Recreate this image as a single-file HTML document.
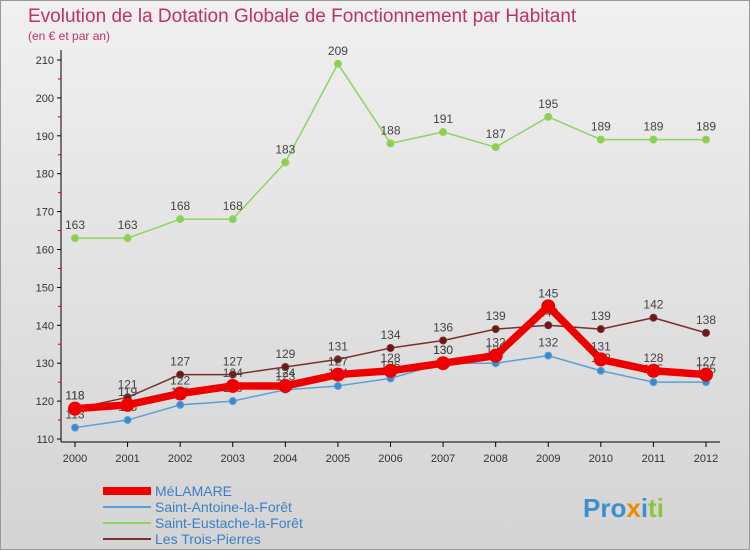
<!DOCTYPE html>
<html><head><meta charset="utf-8"><style>
body{margin:0;width:750px;height:550px;overflow:hidden;font-family:"Liberation Sans",sans-serif}
svg{display:block}
</style></head><body>
<svg width="750" height="550">
<defs><linearGradient id="bg" x1="0" y1="0" x2="0" y2="1"><stop offset="0" stop-color="#f0f0f0"/><stop offset="1" stop-color="#d4d4d4"/></linearGradient></defs>
<rect x="0.5" y="0.5" width="749" height="549" fill="url(#bg)" stroke="#999"/>
<text x="28" y="22" font-size="19" fill="#c0306a">Evolution de la Dotation Globale de Fonctionnement par Habitant</text>
<text x="28" y="40" font-size="12" fill="#c0306a">(en € et par an)</text>
<g id="axes"></g>
<g id="series"></g>
<g id="legend" font-size="14" fill="#3a7fc4">
<rect x="103" y="487" width="48" height="8" fill="#e00"/>
<text x="155" y="496" fill="#3a7fc4">MéLAMARE</text>
<rect x="103" y="506" width="48" height="2" fill="#5aa0d8"/>
<text x="155" y="512" fill="#3a7fc4">Saint-Antoine-la-Forêt</text>
<rect x="103" y="522" width="48" height="2" fill="#8fd460"/>
<text x="155" y="528" fill="#3a7fc4">Saint-Eustache-la-Forêt</text>
<rect x="103" y="538" width="48" height="2" fill="#7a3030"/>
<text x="155" y="544" fill="#3a7fc4">Les Trois-Pierres</text>
</g>
<text x="583" y="517" font-size="26" font-weight="bold"><tspan fill="#3a8fd0">Pro</tspan><tspan fill="#f08a00">x</tspan><tspan fill="#3a8fd0">i</tspan><tspan fill="#8cc63f">ti</tspan></text>
</svg>
<script>
const years=[2000,2001,2002,2003,2004,2005,2006,2007,2008,2009,2010,2011,2012];
const yTicks=[110,120,130,140,150,160,170,180,190,200,210];
const melamare=[118,119,122,124,124,127,128,130,132,145,131,128,127];
const saintAntoine=[113,115,119,120,123,124,126,130,130,132,128,125,125];
const saintEustache=[163,163,168,168,183,209,188,191,187,195,189,189,189];
const troisPierres=[118,121,127,127,129,131,134,136,139,140,139,142,138];
const NS="http://www.w3.org/2000/svg";
const X=i=>75+i*(706-75)/12;
const Y=v=>439-(v-110)*(439-60)/100;
function mk(t,a,p){const e=document.createElementNS(NS,t);for(const k in a)e.setAttribute(k,a[k]);p.appendChild(e);return e;}
const ax=document.getElementById('axes');
const yl=mk('line',{x1:61,y1:50,x2:61,y2:442,stroke:'#000'},ax);


const xl=mk('line',{x1:61,y1:442,x2:720,y2:442,stroke:'#000'},ax);


yTicks.forEach(v=>{
 mk('line',{x1:57,y1:Y(v),x2:61,y2:Y(v),stroke:'#000'},ax);
 if(v<210)mk('line',{x1:58,y1:Y(v+5),x2:61,y2:Y(v+5),stroke:'#d00'},ax);
 const t=mk('text',{x:54,y:Y(v)+4,'font-size':11,fill:'#333','text-anchor':'end'},ax);t.textContent=v;
 
 
});
years.forEach((yr,i)=>{
 mk('line',{x1:X(i),y1:442,x2:X(i),y2:447,stroke:'#000'},ax);
 const t=mk('text',{x:X(i),y:462,'font-size':11,fill:'#333','text-anchor':'middle'},ax);t.textContent=yr;
 
 
});
const sg=document.getElementById('series');
function draw(data,color,w,r,name,dot){
 const g=mk('g',{},sg);
 
 
 const pl=mk('polyline',{points:data.map((v,i)=>X(i)+','+Y(v)).join(' '),fill:'none',stroke:color,'stroke-width':w,'stroke-linejoin':'round'},g);
 
 
 data.forEach((v,i)=>{
  const c=mk('circle',{cx:X(i),cy:Y(v),r:r,fill:dot,stroke:color,'stroke-width':1},g);
  
  
  const t=mk('text',{x:X(i),y:Y(v)-9,'font-size':12,fill:'#444','text-anchor':'middle'},g);t.textContent=v;
  
  
 });
}
draw(saintEustache,'#8fd460',1.5,3.5,'series-saint-eustache','#8cd050');
draw(saintAntoine,'#5aa0d8',1.5,3.5,'series-saint-antoine','#3a8ad0');
draw(troisPierres,'#7a3030',1.5,3.5,'series-trois-pierres','#6a1818');
draw(melamare,'#ee0000',7.5,6.5,'series-melamare','#ee0000');
</script>
</body></html>
